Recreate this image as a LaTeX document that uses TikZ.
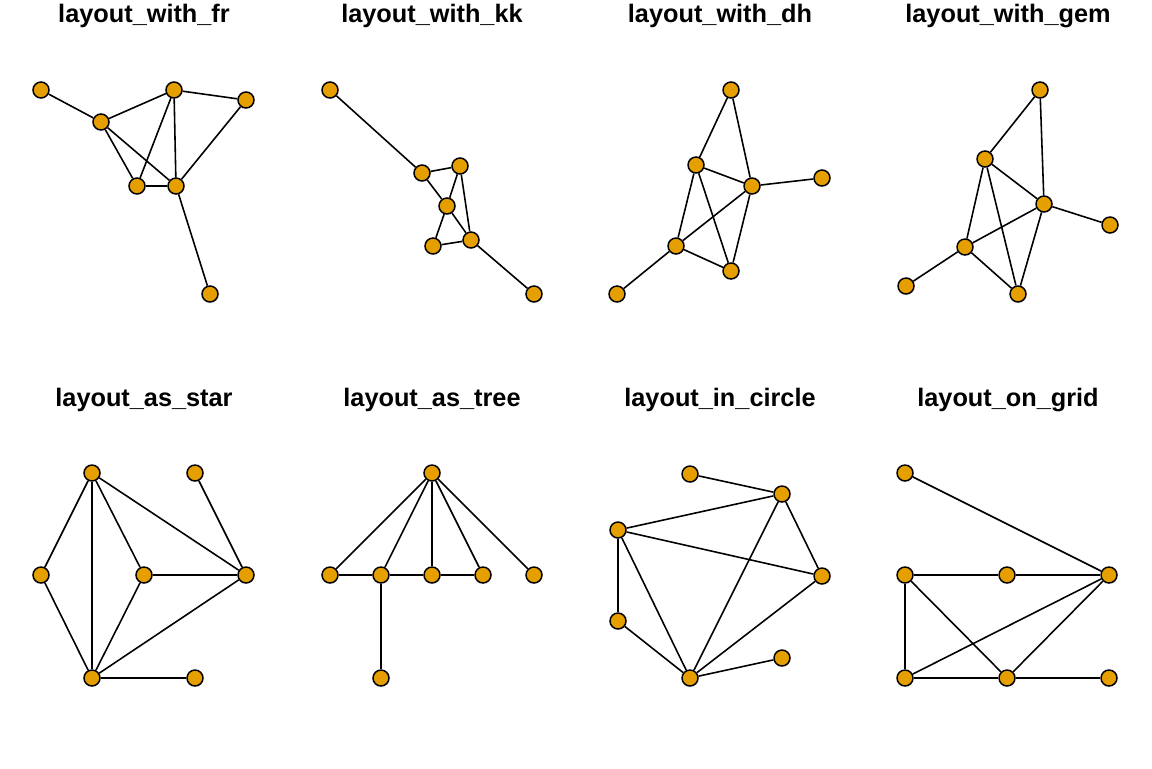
\documentclass[tikz,border=0pt]{standalone}
\usepackage{fontspec}
\setmainfont{Liberation Sans}
\definecolor{vorange}{HTML}{E69F00}

\begin{document}
\begin{tikzpicture}[x=0.02cm, y=-0.02cm,
  vtx/.style={shape=circle, draw, fill=vorange, line width=0.85pt, minimum size=0.32cm, inner sep=0pt},
  ttl/.style={anchor=base, font=\fontsize{14.4}{17}\selectfont\bfseries},
  every path/.style={line width=0.9pt}]

\useasboundingbox (0,0) rectangle (1152,768);

\node[name=tfr, ttl] at (144,22) {layout\_with\_fr};
\node[name=tkk, ttl] at (432,22) {layout\_with\_kk};
\node[name=tdh, ttl] at (720,22) {layout\_with\_dh};
\node[name=tgem, ttl] at (1008,22) {layout\_with\_gem};
\node[name=tstar, ttl] at (144,406) {layout\_as\_star};
\node[name=ttree, ttl] at (432,406) {layout\_as\_tree};
\node[name=tcirc, ttl] at (720,406) {layout\_in\_circle};
\node[name=tgrid, ttl] at (1008,406) {layout\_on\_grid};

% fr
\node[name=fr1, vtx] at (41,90) {};
\node[name=fr2, vtx] at (101,122) {};
\node[name=fr3, vtx] at (174,90) {};
\node[name=fr4, vtx] at (246,100) {};
\node[name=fr5, vtx] at (137,186) {};
\node[name=fr6, vtx] at (176,186) {};
\node[name=fr7, vtx] at (210,294) {};
\draw (fr1) -- (fr2);
\draw (fr2) -- (fr3);
\draw (fr2) -- (fr5);
\draw (fr2) -- (fr6);
\draw (fr3) -- (fr5);
\draw (fr3) -- (fr6);
\draw (fr3) -- (fr4);
\draw (fr4) -- (fr6);
\draw (fr5) -- (fr6);
\draw (fr6) -- (fr7);

% kk
\node[name=kk1, vtx] at (330,90) {};
\node[name=kk2, vtx] at (422,173) {};
\node[name=kk3, vtx] at (460,166) {};
\node[name=kk4, vtx] at (447,206) {};
\node[name=kk5, vtx] at (433,246) {};
\node[name=kk6, vtx] at (471,240) {};
\node[name=kk7, vtx] at (534,294) {};
\draw (kk1) -- (kk2);
\draw (kk2) -- (kk3);
\draw (kk2) -- (kk4);
\draw (kk4) -- (kk6);
\draw (kk3) -- (kk4);
\draw (kk3) -- (kk6);
\draw (kk4) -- (kk5);
\draw (kk5) -- (kk6);
\draw (kk6) -- (kk7);

% dh
\node[name=dh1, vtx] at (731,90) {};
\node[name=dh2, vtx] at (696,165) {};
\node[name=dh3, vtx] at (752,186) {};
\node[name=dh4, vtx] at (822,178) {};
\node[name=dh5, vtx] at (676,246) {};
\node[name=dh6, vtx] at (731,271) {};
\node[name=dh7, vtx] at (617,294) {};
\draw (dh1) -- (dh2);
\draw (dh1) -- (dh3);
\draw (dh2) -- (dh3);
\draw (dh2) -- (dh5);
\draw (dh2) -- (dh6);
\draw (dh3) -- (dh4);
\draw (dh3) -- (dh5);
\draw (dh3) -- (dh6);
\draw (dh5) -- (dh6);
\draw (dh5) -- (dh7);

% gem
\node[name=gem1, vtx] at (1040,90) {};
\node[name=gem2, vtx] at (985,159) {};
\node[name=gem3, vtx] at (1044,204) {};
\node[name=gem4, vtx] at (1110,225) {};
\node[name=gem5, vtx] at (965,247) {};
\node[name=gem6, vtx] at (1018,294) {};
\node[name=gem7, vtx] at (906,286) {};
\draw (gem1) -- (gem2);
\draw (gem1) -- (gem3);
\draw (gem2) -- (gem3);
\draw (gem2) -- (gem5);
\draw (gem2) -- (gem6);
\draw (gem3) -- (gem4);
\draw (gem3) -- (gem5);
\draw (gem3) -- (gem6);
\draw (gem5) -- (gem6);
\draw (gem5) -- (gem7);

% star
\node[name=st1, vtx] at (92,473) {};
\node[name=st2, vtx] at (195,473) {};
\node[name=st3, vtx] at (41,575) {};
\node[name=st4, vtx] at (144,575) {};
\node[name=st5, vtx] at (246,575) {};
\node[name=st6, vtx] at (92,678) {};
\node[name=st7, vtx] at (195,678) {};
\draw (st1) -- (st3);
\draw (st1) -- (st6);
\draw (st1) -- (st4);
\draw (st1) -- (st5);
\draw (st2) -- (st5);
\draw (st3) -- (st6);
\draw (st4) -- (st5);
\draw (st4) -- (st6);
\draw (st6) -- (st5);
\draw (st6) -- (st7);

% tree
\node[name=tr1, vtx] at (432,473) {};
\node[name=tr2, vtx] at (330,575) {};
\node[name=tr3, vtx] at (381,575) {};
\node[name=tr4, vtx] at (432,575) {};
\node[name=tr5, vtx] at (483,575) {};
\node[name=tr6, vtx] at (534,575) {};
\node[name=tr7, vtx] at (381,678) {};
\draw (tr1) -- (tr2);
\draw (tr1) -- (tr3);
\draw (tr1) -- (tr4);
\draw (tr1) -- (tr5);
\draw (tr1) -- (tr6);
\draw (tr2) -- (tr3);
\draw (tr3) -- (tr4);
\draw (tr4) -- (tr5);
\draw (tr3) -- (tr7);

% circle
\node[name=ci1, vtx] at (690,474) {};
\node[name=ci2, vtx] at (782,494) {};
\node[name=ci3, vtx] at (618,530) {};
\node[name=ci4, vtx] at (822,576) {};
\node[name=ci5, vtx] at (618,621) {};
\node[name=ci6, vtx] at (782,658) {};
\node[name=ci7, vtx] at (690,678) {};
\draw (ci1) -- (ci2);
\draw (ci3) -- (ci2);
\draw (ci3) -- (ci4);
\draw (ci3) -- (ci5);
\draw (ci3) -- (ci7);
\draw (ci2) -- (ci4);
\draw (ci2) -- (ci7);
\draw (ci4) -- (ci7);
\draw (ci5) -- (ci7);
\draw (ci7) -- (ci6);

% grid
\node[name=gr1, vtx] at (905,473) {};
\node[name=gr2, vtx] at (905,575) {};
\node[name=gr3, vtx] at (1007,575) {};
\node[name=gr4, vtx] at (1109,575) {};
\node[name=gr5, vtx] at (905,678) {};
\node[name=gr6, vtx] at (1007,678) {};
\node[name=gr7, vtx] at (1109,678) {};
\draw (gr1) -- (gr4);
\draw (gr2) -- (gr3);
\draw (gr3) -- (gr4);
\draw (gr2) -- (gr5);
\draw (gr2) -- (gr6);
\draw (gr5) -- (gr4);
\draw (gr6) -- (gr4);
\draw (gr5) -- (gr6);
\draw (gr6) -- (gr7);

\end{tikzpicture}
\end{document}
